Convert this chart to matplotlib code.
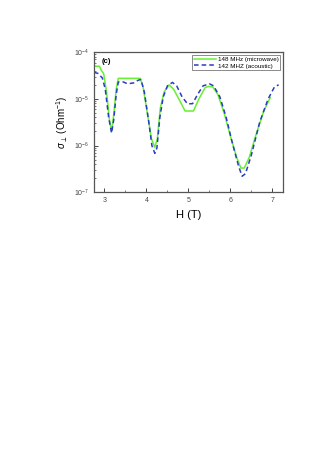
import matplotlib
matplotlib.use('Agg')
import matplotlib.pyplot as plt
from matplotlib.ticker import LogLocator, MultipleLocator, NullFormatter

plt.rcParams['font.family'] = ['Liberation Sans', 'DejaVu Sans']
plt.rcParams['mathtext.fontset'] = 'custom'
plt.rcParams['mathtext.rm'] = 'Liberation Sans'
plt.rcParams['mathtext.it'] = 'Liberation Sans:italic'

# 148 MHz (microwave)
h_mw = [2.75, 2.88, 2.93, 2.98, 3.05, 3.12, 3.17, 3.22, 3.28, 3.33, 3.50, 3.70, 3.85,
        3.92, 4.02, 4.12, 4.20, 4.26, 4.33, 4.42, 4.54, 4.65, 4.80, 4.92, 5.12, 5.25,
        5.40, 5.48, 5.58, 5.70, 5.85, 6.00, 6.15, 6.25, 6.33, 6.45, 6.60, 6.80, 6.95]
s_mw = [5.0e-5, 5.0e-5, 4.0e-5, 3.5e-5, 1.4e-5, 3.5e-6, 2.0e-6, 4.5e-6, 1.6e-5, 2.75e-5, 2.75e-5, 2.75e-5, 2.75e-5,
        1.8e-5, 5.0e-6, 1.4e-6, 9.1e-7, 1.4e-6, 6.3e-6, 1.4e-5, 2.0e-5, 1.6e-5, 8.9e-6, 5.5e-6, 5.5e-6, 1.0e-5,
        1.75e-5, 1.85e-5, 1.8e-5, 1.25e-5, 5.0e-6, 1.6e-6, 5.6e-7, 3.3e-7, 3.3e-7, 5.6e-7, 1.6e-6, 5.6e-6, 1.07e-5]

# 142 MHZ (acoustic)
h_ac = [2.75, 2.85, 2.95, 3.02, 3.10, 3.17, 3.22, 3.28, 3.33, 3.45, 3.55, 3.70, 3.80, 3.87,
        3.95, 4.05, 4.13, 4.20, 4.25, 4.32, 4.40, 4.50, 4.62, 4.72, 4.85, 4.98, 5.10, 5.22,
        5.35, 5.50, 5.60, 5.75, 5.90, 6.05, 6.20, 6.28, 6.36, 6.50, 6.70, 6.90, 7.05, 7.15]
s_ac = [3.7e-5, 3.5e-5, 2.8e-5, 1.6e-5, 4.0e-6, 1.85e-6, 3.5e-6, 1.25e-5, 2.3e-5, 2.3e-5, 2.1e-5, 2.2e-5, 2.5e-5, 2.6e-5,
        1.4e-5, 3.5e-6, 1.0e-6, 6.8e-7, 8.9e-7, 4.0e-6, 1.1e-5, 1.9e-5, 2.25e-5, 1.9e-5, 1.1e-5, 7.8e-6, 7.9e-6, 1.25e-5,
        1.9e-5, 2.1e-5, 1.9e-5, 1.1e-5, 4.0e-6, 1.1e-6, 3.5e-7, 2.2e-7, 2.5e-7, 6.3e-7, 3.2e-6, 1.0e-5, 1.8e-5, 2.0e-5]

fig = plt.figure(figsize=(3.32, 4.70), dpi=100, facecolor='white')
ax = fig.add_axes([0.283, 0.591, 0.569, 0.298])

ax.plot(h_mw, s_mw, color='#66f030', linestyle='-', linewidth=1.1, label='148 MHz (microwave)')
ax.plot(h_ac, s_ac, color='#2a3cc4', linestyle=(0, (3, 2)), linewidth=1.1, label='142 MHZ (acoustic)')

ax.set_yscale('log')
ax.set_xlim(2.75, 7.25)
ax.set_ylim(1e-7, 1e-4)
ax.xaxis.set_major_locator(MultipleLocator(1))
ax.xaxis.set_minor_locator(MultipleLocator(0.5))
ax.yaxis.set_major_locator(LogLocator(base=10, numticks=10))
ax.yaxis.set_minor_locator(LogLocator(base=10, subs=range(2, 10), numticks=20))
ax.yaxis.set_minor_formatter(NullFormatter())
ax.tick_params(which='both', direction='in', labelsize=5, colors='#444444')
ax.tick_params(which='major', length=3, width=0.7)
ax.tick_params(which='minor', length=1.5, width=0.5)
for sp in ax.spines.values():
    sp.set_color('#555555')
    sp.set_linewidth(0.9)

ax.set_xlabel('H (T)', fontsize=8)
ax.set_ylabel(r'$\sigma_{\perp}$ (Ohm$^{-1}$)', fontsize=7, labelpad=3)
ax.text(0.04, 0.92, '(c)', transform=ax.transAxes, fontsize=5.5, fontweight='bold')

leg = ax.legend(loc='upper right', fontsize=4.5, frameon=True, fancybox=False,
                borderpad=0.3, handlelength=3.5, handletextpad=0.3, labelspacing=0.2,
                borderaxespad=0.4)
leg.get_frame().set_edgecolor('#555555')
leg.get_frame().set_linewidth(0.6)

fig.savefig('out.png', dpi=100)
